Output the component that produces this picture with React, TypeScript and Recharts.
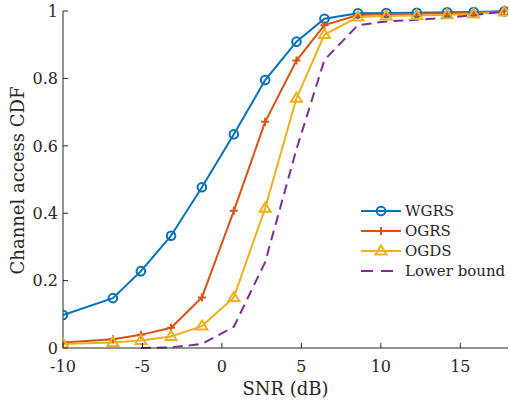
import React from 'react';
import { LineChart, Line, XAxis, YAxis, Legend, Label } from 'recharts';

// SNR sample points (dB) and CDF values
const snr = [-10, -6.86, -5.1, -3.2, -1.26, 0.75, 2.72, 4.69, 6.45, 8.56, 10.34, 12.26, 14.17, 15.84, 17.77];
const wgrs = [0.098, 0.148, 0.228, 0.333, 0.477, 0.634, 0.795, 0.909, 0.977, 0.993, 0.994, 0.995, 0.996, 0.997, 0.999];
const ogrs = [0.016, 0.026, 0.039, 0.06, 0.15, 0.407, 0.671, 0.853, 0.958, 0.988, 0.99, 0.992, 0.993, 0.995, 0.999];
const ogds = [0.012, 0.016, 0.022, 0.034, 0.065, 0.15, 0.415, 0.741, 0.93, 0.982, 0.985, 0.987, 0.989, 0.991, 0.997];
const lowerBound = [null, null, 0, 0.002, 0.012, 0.063, 0.255, 0.59, 0.855, 0.958, 0.969, 0.974, 0.98, 0.988, 0.998];

const xTicks = [-10, -5, 0, 5, 10, 15];
const yTicks = [0, 0.2, 0.4, 0.6, 0.8, 1];

const data = snr.map((s, i) => ({
  snr: s,
  wgrs: wgrs[i],
  ogrs: ogrs[i],
  ogds: ogds[i],
  lower: lowerBound[i],
}));

const FONT = '"DejaVu Serif", serif';
const INK = '#262626';
const DASH = '10 6';

const series = [
  { key: 'wgrs', name: 'WGRS', color: '#0072BD', marker: 'circle' },
  { key: 'ogrs', name: 'OGRS', color: '#D95319', marker: 'plus' },
  { key: 'ogds', name: 'OGDS', color: '#EDB120', marker: 'triangle' },
  { key: 'lower', name: 'Lower bound', color: '#7E2F8E', marker: 'none' },
];

const Marker = ({ type, cx, cy, color }: any) => {
  if (cx == null || cy == null) return null;
  if (type === 'circle') {
    return <circle cx={cx} cy={cy} r={4.3} fill="none" stroke={color} strokeWidth={2} />;
  }
  if (type === 'plus') {
    return (
      <path
        d={`M${cx - 4},${cy} H${cx + 4} M${cx},${cy - 4} V${cy + 4}`}
        stroke={color}
        strokeWidth={2}
        fill="none"
      />
    );
  }
  if (type === 'triangle') {
    return (
      <path
        d={`M${cx},${cy - 5.5} L${cx + 5.5},${cy + 3.5} L${cx - 5.5},${cy + 3.5} Z`}
        stroke={color}
        strokeWidth={2}
        fill="none"
        strokeLinejoin="miter"
      />
    );
  }
  return null;
};

const XTick = ({ x, y, payload }: any) => (
  <g>
    <line x1={x} y1={y} x2={x} y2={y - 5} stroke={INK} strokeWidth={1} />
    <text x={x} y={y + 24} textAnchor="middle" fill={INK} fontSize={16} fontFamily={FONT}>
      {payload.value}
    </text>
  </g>
);

const YTick = ({ x, y, payload }: any) => (
  <g>
    <line x1={x} y1={y} x2={x + 5} y2={y} stroke={INK} strokeWidth={1} />
    <text x={x - 5} y={y} dy="0.36em" textAnchor="end" fill={INK} fontSize={16} fontFamily={FONT}>
      {String(payload.value)}
    </text>
  </g>
);

const LegendBox = () => (
  <div style={{ fontFamily: FONT, fontSize: 15, color: INK }}>
    {series.map((s) => (
      <div key={s.key} style={{ display: 'flex', alignItems: 'center', height: 20 }}>
        <svg width={44} height={20} style={{ display: 'block' }}>
          <line
            x1={2}
            y1={10}
            x2={42}
            y2={10}
            stroke={s.color}
            strokeWidth={2}
            strokeDasharray={s.marker === 'none' ? '12 8' : undefined}
          />
          <Marker type={s.marker} cx={22} cy={10} color={s.color} />
        </svg>
        <span style={{ marginLeft: 2, lineHeight: '20px' }}>{s.name}</span>
      </div>
    ))}
  </div>
);

export default function App() {
  return (
    <div style={{ position: 'absolute', left: 0, top: 0, background: '#fff' }}>
      <LineChart width={510} height={406} data={data} margin={{ top: 11, right: 2, bottom: 0, left: 0 }}>
        <XAxis
          dataKey="snr"
          type="number"
          domain={[-10, 18]}
          ticks={xTicks}
          allowDataOverflow
          height={58}
          stroke={INK}
          tickLine={false}
          tickSize={0}
          tickMargin={0}
          tick={<XTick />}
        >
          <Label
            content={({ viewBox }: any) => (
              <text
                x={viewBox.x + viewBox.width / 2}
                y={viewBox.y + 47}
                textAnchor="middle"
                fill={INK}
                fontSize={18}
                fontFamily={FONT}
              >
                SNR (dB)
              </text>
            )}
          />
        </XAxis>
        <YAxis
          type="number"
          domain={[0, 1]}
          ticks={yTicks}
          width={63}
          stroke={INK}
          tickLine={false}
          tickSize={0}
          tickMargin={0}
          tick={<YTick />}
        >
          <Label
            content={({ viewBox }: any) => {
              const cx = 17;
              const cy = viewBox.y + viewBox.height / 2 + 1;
              return (
                <text
                  x={cx}
                  y={cy}
                  transform={`rotate(-90, ${cx}, ${cy})`}
                  textAnchor="middle"
                  dominantBaseline="central"
                  fill={INK}
                  fontSize={18}
                  fontFamily={FONT}
                >
                  Channel access CDF
                </text>
              );
            }}
          />
        </YAxis>
        <Legend
          layout="vertical"
          align="center"
          verticalAlign="middle"
          content={<LegendBox />}
          wrapperStyle={{ left: 359, top: 201, width: 160, bottom: 'auto', right: 'auto' }}
        />
        {series.map((s) => (
          <Line
            key={s.key}
            dataKey={s.key}
            name={s.name}
            type="linear"
            stroke={s.color}
            strokeWidth={2}
            strokeDasharray={s.marker === 'none' ? DASH : undefined}
            dot={
              s.marker === 'none'
                ? false
                : (p: any) => <Marker key={`${s.key}-${p.index}`} type={s.marker} cx={p.cx} cy={p.cy} color={s.color} />
            }
            activeDot={false}
            isAnimationActive={false}
          />
        ))}
      </LineChart>
    </div>
  );
}
